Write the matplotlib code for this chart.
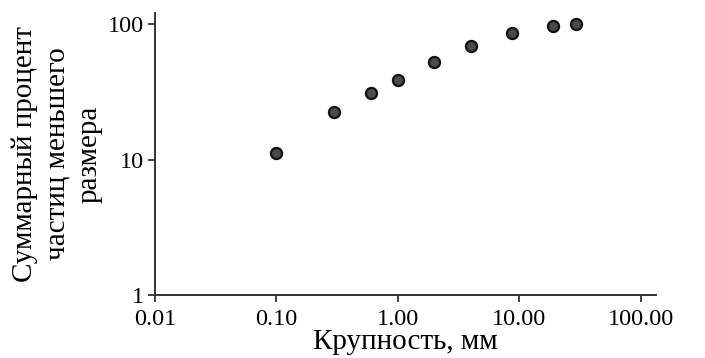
import matplotlib.pyplot as plt
from matplotlib.ticker import FixedLocator, FixedFormatter, NullLocator

plt.rcParams['font.family'] = ['Liberation Serif', 'DejaVu Serif']

# particle size, mm and cumulative percent passing
size_mm = [0.1, 0.3, 0.6, 1.0, 2.0, 4.0, 8.8, 18.8, 29.5]
percent = [11.3, 22.4, 31.0, 39.1, 52.9, 69.5, 86.8, 97.2, 100.0]

x_ticks = [0.01, 0.1, 1, 10, 100]
x_labels = ["0.01", "0.10", "1.00", "10.00", "100.00"]
y_ticks = [1, 10, 100]
y_labels = ["1", "10", "100"]

fig = plt.figure(figsize=(7.05, 3.58), dpi=100)
ax = fig.add_axes([0.22, 0.175, 0.71, 0.79])

ax.plot(size_mm, percent, linestyle="none", marker="o", markersize=8,
        markerfacecolor="#4a4a4a", markeredgecolor="#111111", markeredgewidth=1.6)

ax.set_xscale("log")
ax.set_yscale("log")
ax.set_xlim(0.01, 133)
ax.set_ylim(1, 122)

ax.xaxis.set_major_locator(FixedLocator(x_ticks))
ax.xaxis.set_major_formatter(FixedFormatter(x_labels))
ax.xaxis.set_minor_locator(NullLocator())
ax.yaxis.set_major_locator(FixedLocator(y_ticks))
ax.yaxis.set_major_formatter(FixedFormatter(y_labels))
ax.yaxis.set_minor_locator(NullLocator())

for side in ["top", "right"]:
    ax.spines[side].set_visible(False)
for side in ["left", "bottom"]:
    ax.spines[side].set_color("#333333")
    ax.spines[side].set_linewidth(1.4)

ax.tick_params(axis="both", direction="out", length=5, width=1.3,
               color="#333333", labelsize=17.5)
ax.tick_params(axis="x", pad=5)
ax.tick_params(axis="y", pad=3)

ax.set_xlabel("Крупность, мм", fontsize=21, labelpad=-1)
ax.set_ylabel("Суммарный процент\nчастиц меньшего\nразмера", fontsize=21,
              linespacing=1.3, labelpad=4)

fig.savefig("out.png", dpi=100)
